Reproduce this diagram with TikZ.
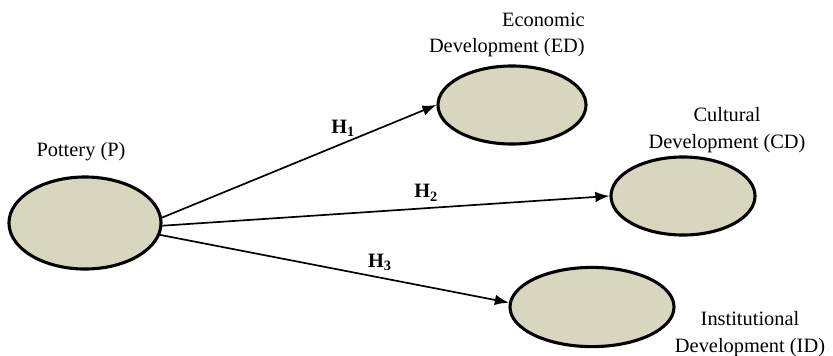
\documentclass[tikz,border=0pt]{standalone}
\usepackage{fontspec}
\setmainfont{Liberation Serif}
\usetikzlibrary{arrows.meta,shapes.geometric}

\definecolor{potfill}{RGB}{217,214,192}

\begin{document}
\begin{tikzpicture}[
    x=0.025cm, y=-0.025cm,
    construct/.style={draw, ellipse, line width=2.2pt, fill=potfill, inner sep=0pt},
    lbl/.style={font=\fontsize{14.5}{19}\selectfont, inner sep=0pt, align=center},
    hyp/.style={font=\fontsize{14.5}{17}\selectfont\bfseries, inner sep=4.5pt},
    arr/.style={-{Latex[length=10pt,width=7.5pt]}, line width=1.2pt}
]
\useasboundingbox (0,0) rectangle (833,355);

\node[construct, minimum width=3.8cm, minimum height=2.3cm] (P) at (85,223) {};
\node[construct, minimum width=3.7cm, minimum height=1.95cm] (ED) at (512,105) {};
\node[construct, minimum width=3.6cm, minimum height=1.95cm] (CD) at (683,196) {};
\node[construct, minimum width=4.1cm, minimum height=1.98cm] (ID) at (592,307) {};

\node[lbl] (Plbl) at (81,152) {Pottery (P)};
\node[lbl, align=right, anchor=east] (EDlbl) at (585,35) {Economic\\Development (ED)};
\node[lbl] (CDlbl) at (727,130) {Cultural\\Development (CD)};
\node[lbl] (IDlbl) at (750,334) {Institutional\\Development (ID)};

\draw[arr] (P.4) -- node[hyp, above, pos=0.66] {H$_{\mathbf{1}}$} (ED.west);
\draw[arr] (P.-2) -- node[hyp, above, pos=0.59] {H$_{\mathbf{2}}$} (CD.west);
\draw[arr] (P.-9) -- node[hyp, above, pos=0.63] {H$_{\mathbf{3}}$} (ID.177);
\end{tikzpicture}
\end{document}
